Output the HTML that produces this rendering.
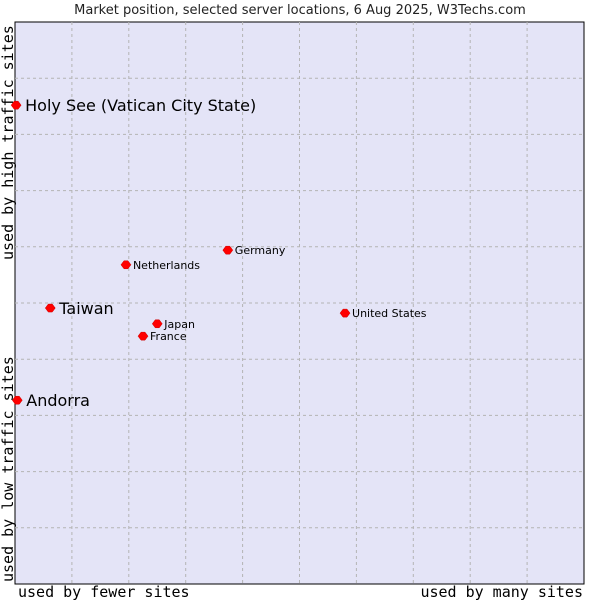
<!DOCTYPE html>
<html><head><meta charset="utf-8"><style>
body{margin:0;background:#fff;}
svg text{font-family:"DejaVu Sans","Liberation Sans",sans-serif;}
.mono{font-family:"DejaVu Sans Mono","Liberation Mono",monospace !important;}
</style></head><body>
<svg width="600" height="600" xmlns="http://www.w3.org/2000/svg">
<text x="300" y="14" text-anchor="middle" font-size="13" fill="#222">Market position, selected server locations, 6 Aug 2025, W3Techs.com</text>
<rect x="15" y="22" width="569" height="562" fill="#e4e4f7" stroke="#000" stroke-width="1"/>
<g id="grid"></g>
<g id="pts"></g>
<text class="mono" x="18" y="597" font-size="15" fill="#000">used by fewer sites</text>
<text class="mono" x="583" y="597" font-size="15" text-anchor="end" fill="#000">used by many sites</text>
<text class="mono" transform="translate(13,260) rotate(-90)" font-size="15" fill="#000">used by high traffic sites</text>
<text class="mono" transform="translate(13,582) rotate(-90)" font-size="15" fill="#000">used by low traffic sites</text>
</svg>
<script>
const names=["Holy See (Vatican City State)","Andorra","Taiwan","Netherlands","Germany","Japan","France","United States"];
const xVals=[0.02,0.04,0.62,1.95,3.74,2.50,2.25,5.80];
const yVals=[8.52,3.27,4.91,5.68,5.94,4.63,4.41,4.82];
const bigLabel=[true,true,true,false,false,false,false,false];
const X0=15,X1=584,Y0=22,Y1=584;
const sx=v=>X0+v/10*(X1-X0);
const sy=v=>Y1-v/10*(Y1-Y0);
const NS="http://www.w3.org/2000/svg";
const grid=document.getElementById('grid');
for(let i=1;i<10;i++){
  const v=document.createElementNS(NS,'line');
  v.setAttribute('x1',sx(i));v.setAttribute('x2',sx(i));v.setAttribute('y1',Y0);v.setAttribute('y2',Y1);
  v.setAttribute('stroke','#b4b4b4');v.setAttribute('stroke-dasharray','3,3');
  
  
  grid.appendChild(v);
  const h=document.createElementNS(NS,'line');
  h.setAttribute('y1',sy(i));h.setAttribute('y2',sy(i));h.setAttribute('x1',X0);h.setAttribute('x2',X1);
  h.setAttribute('stroke','#b4b4b4');h.setAttribute('stroke-dasharray','3,3');
  
  
  grid.appendChild(h);
}
const pts=document.getElementById('pts');
names.forEach((n,i)=>{
  const cx=sx(xVals[i]),cy=sy(yVals[i]);
  const d=document.createElementNS(NS,'path');
  d.setAttribute('d',`M${cx-5},${cy} L${cx-2},${cy-4} L${cx+2},${cy-4} L${cx+5},${cy} L${cx+2},${cy+4} L${cx-2},${cy+4} Z`);
  d.setAttribute('fill','#f00');d.setAttribute('stroke','#c00');d.setAttribute('stroke-width','0.5');
  
  
  pts.appendChild(d);
  const t=document.createElementNS(NS,'text');
  t.setAttribute('x',cx+(bigLabel[i]?9:7));
  t.setAttribute('y',cy+(bigLabel[i]?6:4));
  t.setAttribute('font-size',bigLabel[i]?'16':'11');
  t.setAttribute('fill','#000');
  t.textContent=n;
  
  
  pts.appendChild(t);
});
</script>
</body></html>
